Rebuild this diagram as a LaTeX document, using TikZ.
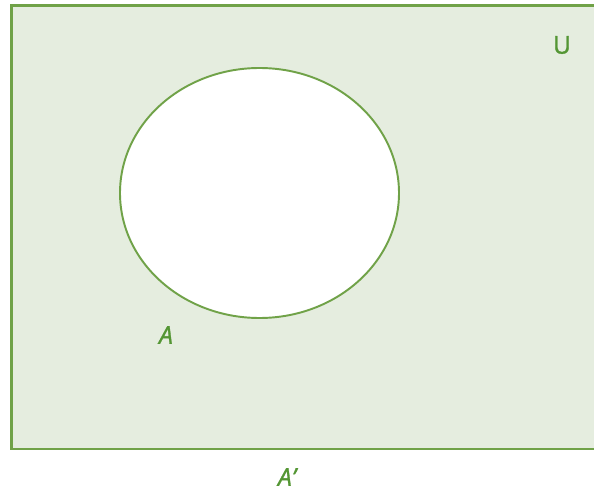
\documentclass[tikz,border=0pt]{standalone}
\usepackage{fontspec}
\setsansfont[FakeBold=1.2]{Open Sans}
\definecolor{vennline}{RGB}{112,162,72}
\definecolor{vennfill}{RGB}{229,237,223}
\definecolor{venntext}{RGB}{84,150,52}
\tikzset{
  setlabel/.style={text=venntext, inner sep=0pt,
    font=\sffamily\fontsize{14}{16}\selectfont},
}
\begin{document}
\begin{tikzpicture}

\useasboundingbox (0,0) rectangle (11.88,-9.90);
\clip (0,0) rectangle (11.88,-9.90);

% ---- universe (shaded complement) ----------------------------
\filldraw[fill=vennfill, draw=vennline, line width=1.2pt]
   (0.23,-0.11) rectangle (12.10,-8.98);

% ---- set A -----------------------------------------------------
\filldraw[fill=white, draw=vennline, line width=1.1pt]
   (5.19,-3.86) ellipse [x radius=2.79, y radius=2.50];

% ---- labels ----------------------------------------------------
\node[setlabel] (univ) at (11.24,-0.90) {U};
\node[setlabel] (seta) at (3.32,-6.70) {\itshape A};
\node[setlabel] (compl) at (5.74,-9.54) {\itshape A'};

\end{tikzpicture}
\end{document}
